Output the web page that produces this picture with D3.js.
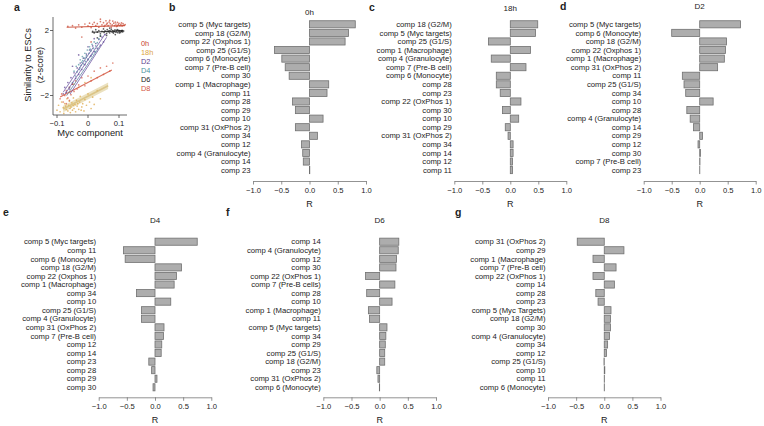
<!DOCTYPE html>
<html>
<head>
<meta charset="utf-8">
<script src="https://cdn.jsdelivr.net/npm/d3@7"></script>
<style>
  body { margin: 0; background: #fff; }
  text { font-family: "Liberation Sans", Arial, sans-serif; fill: #222; }
</style>
</head>
<body>
<script>
// scatter (panel a): [Myc component, z-score]
const pts0h = [[-0.065,2.25],[-0.05,2.3],[-0.04,2.15],[-0.03,2.35],[-0.02,2.2],[-0.01,2.4],[0.0,2.28],[0.005,2.45],[0.01,2.18],[0.015,2.38],[0.02,2.5],[0.025,2.3],[0.03,2.42],[0.035,2.2],[0.04,2.55],[0.045,2.35],[0.05,2.48],[0.052,2.25],[0.058,2.6],[0.06,2.38],[0.065,2.3],[0.068,2.52],[0.072,2.42],[0.075,2.2],[0.078,2.35],[0.08,2.58],[0.083,2.45],[0.086,2.3],[0.09,2.4],[0.092,2.25],[0.095,2.5],[0.098,2.36],[0.1,2.44],[0.103,2.3],[0.106,2.38],[0.11,2.28],[0.113,2.42],[0.116,2.33],[0.12,2.36],[0.04,2.7],[-0.02,1.6],[0.01,1.3],[0.062,2.45],[0.088,2.52],[0.108,2.47],[0.055,2.32],[0.07,2.62],[0.095,2.28]];
const pts18h = [[-0.1,-2.9],[-0.095,-2.6],[-0.09,-3.0],[-0.085,-2.4],[-0.08,-2.75],[-0.078,-3.1],[-0.075,-2.5],[-0.07,-2.85],[-0.068,-2.2],[-0.065,-2.95],[-0.062,-2.6],[-0.06,-2.35],[-0.057,-3.05],[-0.055,-2.7],[-0.052,-2.45],[-0.05,-2.9],[-0.047,-2.15],[-0.045,-2.8],[-0.042,-2.55],[-0.04,-3.0],[-0.037,-2.3],[-0.035,-2.65],[-0.03,-2.85],[-0.027,-2.4],[-0.025,-2.05],[-0.02,-2.7],[-0.017,-2.5],[-0.013,-2.95],[-0.01,-2.25],[-0.005,-2.6],[0.0,-1.9],[0.005,-2.4],[0.01,-2.8],[0.015,-2.1],[0.02,-2.55],[-0.03,-1.5],[-0.01,-1.2],[0.03,-1.7],[0.04,-2.2],[-0.06,-1.8],[0.01,-0.9],[-0.045,-1.3],[-0.072,-2.65],[-0.058,-2.8],[-0.048,-2.6],[-0.033,-2.5],[-0.022,-2.9]];
const ptsD2 = [[-0.08,-1.9],[-0.075,-1.5],[-0.07,-1.8],[-0.065,-1.2],[-0.06,-1.6],[-0.055,-0.9],[-0.05,-1.3],[-0.045,-0.6],[-0.04,-0.95],[-0.035,-0.3],[-0.03,-0.7],[-0.025,0.0],[-0.02,-0.4],[-0.015,0.3],[-0.01,-0.1],[-0.005,0.55],[0.0,0.2],[0.005,0.8],[0.01,0.45],[0.015,1.05],[0.02,0.7],[0.025,1.2],[0.03,0.9],[0.035,1.45],[0.04,1.1],[0.045,1.6],[0.05,1.3],[0.055,1.75],[-0.05,-0.2],[0.0,1.0],[-0.03,0.5],[0.02,1.5]];
const ptsD4 = [[-0.045,-0.5],[-0.04,-0.8],[-0.038,-0.2],[-0.035,-0.55],[-0.03,-0.1],[-0.028,-0.4],[-0.025,0.2],[-0.022,-0.15],[-0.02,0.05],[-0.018,0.4],[-0.015,-0.05],[-0.012,0.3],[-0.01,0.6],[-0.008,0.1],[-0.005,0.45],[-0.002,0.8],[0.0,0.25],[0.003,0.6],[0.005,1.0],[0.008,0.4],[0.01,0.75],[0.013,1.15],[0.015,0.55],[0.018,0.9],[0.02,1.3],[0.023,0.7],[0.025,1.05],[0.03,1.25],[0.035,1.5],[-0.05,-1.2],[-0.06,-1.5],[0.04,1.7],[-0.017,0.15],[-0.006,0.35],[0.007,0.85],[-0.026,-0.3]];
const ptsD6 = [[0.015,1.95],[0.02,1.85],[0.025,2.05],[0.03,1.9],[0.035,2.0],[0.04,1.8],[0.045,1.95],[0.05,2.1],[0.052,1.88],[0.055,1.98],[0.06,1.82],[0.062,2.05],[0.065,1.92],[0.068,2.0],[0.07,1.86],[0.073,1.97],[0.075,2.08],[0.078,1.9],[0.08,2.0],[0.082,1.84],[0.085,1.95],[0.087,2.04],[0.09,1.9],[0.092,1.98],[0.095,1.87],[0.097,2.02],[0.1,1.93],[0.102,1.99],[0.105,1.88],[0.107,1.96],[0.11,2.01],[0.112,1.92],[0.115,1.97],[0.06,1.7],[0.04,1.65],[0.088,1.75],[0.07,2.15],[0.03,1.55],[0.083,1.92],[0.094,2.06],[0.101,1.85],[0.109,1.94]];
const ptsD8 = [[-0.09,-2.2],[-0.085,-1.9],[-0.08,-2.4],[-0.075,-2.0],[-0.07,-1.7],[-0.065,-2.15],[-0.06,-1.5],[-0.055,-1.95],[-0.05,-1.3],[-0.045,-1.75],[-0.04,-1.1],[-0.035,-1.6],[-0.03,-1.35],[-0.02,-0.9],[-0.01,-1.4],[0.0,-0.8],[0.01,-1.1],[0.02,-0.5],[0.03,-0.9],[0.04,-0.3],[0.05,-0.7],[0.06,-0.2],[0.07,-0.5],[0.08,0.0],[-0.06,-2.3],[-0.07,-2.5]];

// fitted lines, [[x1,y1],[x2,y2]]
const line0h = [[-0.069,2.2],[0.119,2.3]];
const line18h = [[-0.08,-2.83],[0.065,-1.4]];
const linesD2 = [[[-0.074,-1.91],[0.055,1.78]],[[-0.08,-1.8],[0.017,0.97]],[[-0.058,-1.91],[0.06,1.58]]];
const linesD4 = [[[-0.069,-2.01],[0.039,1.06]]];
const lineD6 = [[0.012,1.89],[0.114,1.99]];
const lineD8 = [[-0.09,-2.09],[0.077,-0.43]];

const groups = ["0h","18h","D2","D4","D6","D8"];
const groupColors = ["#c8452f","#dca43e","#5a3f8e","#4b93a0","#1a1a1a","#d4563f"];

// correlation bar panels
const labels0h = ["comp 5 (Myc targets)","comp 18 (G2/M)","comp 22 (Oxphos 1)","comp 25 (G1/S)","comp 6 (Monocyte)","comp 7 (Pre-B cell)","comp 30","comp 1 (Macrophage)","comp 11","comp 28","comp 29","comp 10","comp 31 (OxPhos 2)","comp 34","comp 12","comp 4 (Granulocyte)","comp 14","comp 23"];
const r0h = [0.81,0.69,0.63,-0.62,-0.49,-0.43,-0.36,0.34,0.31,-0.30,-0.25,0.24,-0.25,0.14,-0.14,-0.12,-0.11,0.005];

const labels18h = ["comp 18 (G2/M)","comp 5 (Myc targets)","comp 25 (G1/S)","comp 1 (Macrophage)","comp 4 (Granulocyte)","comp 7 (Pre-B cell)","comp 6 (Monocyte)","comp 28","comp 23","comp 22 (OxPhos 1)","comp 30","comp 10","comp 29","comp 31 (OxPhos 2)","comp 34","comp 14","comp 12","comp 11"];
const r18h = [0.49,0.45,-0.39,0.36,-0.34,0.28,-0.25,-0.25,-0.18,0.19,-0.14,0.15,-0.09,-0.04,0.05,0.05,0.04,0.04];

const labelsD2 = ["comp 5 (Myc targets)","comp 6 (Monocyte)","comp 18 (G2/M)","comp 22 (Oxphos 1)","comp 1 (Macrophage)","comp 31 (OxPhos 2)","comp 11","comp 25 (G1/S)","comp 34","comp 10","comp 28","comp 4 (Granulocyte)","comp 14","comp 29","comp 12","comp 30","comp 7 (Pre-B cell)","comp 23"];
const rD2 = [0.73,-0.50,0.48,0.46,0.44,0.32,-0.31,-0.28,-0.25,0.24,-0.23,-0.17,-0.11,0.05,-0.03,0.015,0.005,0.002];

const labelsD4 = ["comp 5 (Myc targets)","comp 11","comp 6 (Monocyte)","comp 18 (G2/M)","comp 22 (Oxphos 1)","comp 1 (Macrophage)","comp 34","comp 10","comp 25 (G1/S)","comp 4 (Granulocyte)","comp 31 (OxPhos 2)","comp 7 (Pre-B cell)","comp 12","comp 14","comp 23","comp 28","comp 29","comp 30"];
const rD4 = [0.75,-0.56,-0.53,0.47,0.38,0.34,-0.33,0.28,-0.24,-0.24,0.16,0.15,0.12,0.11,-0.11,-0.06,0.035,-0.035];

const labelsD6 = ["comp 14","comp 4 (Granulocyte)","comp 12","comp 30","comp 22 (OxPhos 1)","comp 7 (Pre-B cells)","comp 28","comp 10","comp 1 (Macrophage)","comp 11","comp 5 (Myc targets)","comp 34","comp 29","comp 25 (G1/S)","comp 18 (G2/M)","comp 23","comp 31 (OxPhos 2)","comp 6 (Monocyte)"];
const rD6 = [0.34,0.33,0.30,0.29,-0.25,0.27,-0.23,0.22,-0.20,-0.18,0.13,0.11,0.10,0.09,0.09,-0.05,-0.03,-0.005];

const labelsD8 = ["comp 31 (OxPhos 2)","comp 29","comp 1 (Macrophage)","comp 7 (Pre-B cell)","comp 22 (OxPhos 1)","comp 14","comp 28","comp 23","comp 5 (Myc Targets)","comp 18 (G2/M)","comp 30","comp 4 (Granulocyte)","comp 34","comp 12","comp 25 (G1/S)","comp 10","comp 11","comp 6 (Monocyte)"];
const rD8 = [-0.48,0.35,-0.20,0.21,-0.20,0.18,-0.15,-0.11,0.12,0.11,0.11,0.095,0.06,0.04,-0.005,0.01,0.003,0.002];

const rTicks = [-1,-0.5,0,0.5,1];

var svg = d3.select('body').append('svg')
  .attr('width',764)
  .attr('height',426);

// ---- panel a ----
function drawScatter(){
  const x = d3.scaleLinear().domain([-0.1,0.1]).range([57,119]);
  const y = d3.scaleLinear().domain([-2,2]).range([95.5,30.5]);
  const g = svg.append('g');

  svg.append('text').text('a')
    .attr('x',14).attr('y',11)
    .style('font-weight','bold').style('font-size','10.5px');

  svg.append('clipPath').attr('id','clipA')
    .append('rect').attr('x',53).attr('y',17).attr('width',76).attr('height',98);
  const plot = g.append('g').attr('clip-path','url(#clipA)');

  const sets = [pts0h,pts18h,ptsD2,ptsD4,ptsD6,ptsD8];
  // 18h confidence band under everything
  const band = [[line18h[0][0],line18h[0][1]+0.2],[line18h[1][0],line18h[1][1]+0.2],
                [line18h[1][0],line18h[1][1]-0.2],[line18h[0][0],line18h[0][1]-0.2]];
  plot.append('path')
    .attr('d','M'+band.map(p=>x(p[0])+','+y(p[1])).join('L')+'Z')
    .style('fill','#ebe1bf');

  sets.forEach((pts,i)=>{
    plot.append('g').selectAll('circle')
      .data(pts).enter().append('circle')
      .attr('cx',d=>x(d[0])).attr('cy',d=>y(d[1]))
      .attr('r',0.85)
      .style('fill',groupColors[i])
      .style('opacity',0.7);
  });

  const lineGen = d3.line().x(d=>x(d[0])).y(d=>y(d[1]));
  const fits = [
    [line18h,'#d8c07e',1.5],
    [line0h,groupColors[0],1.1],
    [lineD6,groupColors[4],1.1],
    [lineD8,groupColors[5],1.1]
  ];
  linesD2.forEach(l=>fits.push([l,'#6a52a0',0.9]));
  linesD4.forEach(l=>fits.push([l,'#5b7fa0',0.9]));
  fits.forEach(f=>{
    plot.append('path').attr('d',lineGen(f[0]))
      .style('fill','none').style('stroke',f[1]).style('stroke-width',f[2])
      .style('opacity',0.85);
  });

  // L-shaped frame
  g.append('path').attr('d','M53,17V115H127')
    .style('fill','none').style('stroke','#444').style('stroke-width',0.8);
  [-2,2].forEach(v=>{
    g.append('line').attr('x1',50).attr('x2',53).attr('y1',y(v)).attr('y2',y(v))
      .style('stroke','#444').style('stroke-width',0.8);
    g.append('text').text(d3.format('d')(v))
      .attr('x',49).attr('y',y(v)).attr('dy','0.35em')
      .style('text-anchor','end').style('font-size','7.6px');
  });
  [-0.1,0,0.1].forEach(v=>{
    g.append('line').attr('x1',x(v)).attr('x2',x(v)).attr('y1',115).attr('y2',118)
      .style('stroke','#444').style('stroke-width',0.8);
    g.append('text').text(v===0?'0':d3.format('.1f')(v))
      .attr('x',x(v)).attr('y',125.5)
      .style('text-anchor','middle').style('font-size','7.6px');
  });
  g.append('text').text('Myc component')
    .attr('x',90).attr('y',136)
    .style('text-anchor','middle').style('font-size','9.3px');
  g.append('text').text('Similarity to ESCs')
    .attr('transform','translate(31,65) rotate(-90)')
    .style('text-anchor','middle').style('font-size','9.2px');
  g.append('text').text('(z-score)')
    .attr('transform','translate(42.5,65) rotate(-90)')
    .style('text-anchor','middle').style('font-size','9.2px');

  // legend
  groups.forEach((name,i)=>{
    g.append('text').text(name)
      .attr('x',141).attr('y',43.5+i*9).attr('dy','0.35em')
      .style('font-size','7.4px').style('fill',groupColors[i]);
  });
}

// ---- panels b-g ----
function drawBars(p){
  const x = d3.scaleLinear().domain([-1,1]).range(p.xr);
  const y = d3.scalePoint().domain(p.labels).range(p.yr);
  const barH = y.step()*0.83;
  const g = svg.append('g');

  g.append('text').text(p.letter)
    .attr('x',p.letterPos[0]).attr('y',p.letterPos[1]).attr('dy','0.35em')
    .style('font-weight','bold').style('font-size','10.5px');
  g.append('text').text(p.title)
    .attr('x',x(0)).attr('y',p.titleY).attr('dy','0.35em')
    .style('text-anchor','middle').style('font-size','8px');

  g.selectAll('rect').data(p.values).enter().append('rect')
    .attr('x',d=>x(Math.min(0,d)))
    .attr('y',(d,i)=>y(p.labels[i])-barH/2)
    .attr('width',d=>Math.abs(x(d)-x(0)))
    .attr('height',barH)
    .style('fill','#adadad')
    .style('stroke','#707070')
    .style('stroke-width',0.8);

  g.selectAll('text.lab').data(p.labels).enter().append('text')
    .attr('class','lab')
    .text(d=>d)
    .attr('x',x(-1)-2.5)
    .attr('y',d=>y(d)).attr('dy','0.35em')
    .style('text-anchor','end').style('font-size','7.7px');

  const axis = d3.axisBottom(x).tickValues(rTicks)
    .tickFormat(d3.format('.1f')).tickSize(3.5).tickPadding(3).tickSizeOuter(0);
  const ax = g.append('g').attr('transform','translate(0,'+p.axisY+')').call(axis);
  ax.select('.domain').style('stroke','#777').style('stroke-width',0.8);
  ax.selectAll('.tick line').style('stroke','#777').style('stroke-width',0.8);
  ax.selectAll('.tick text').style('font-size','7.6px').style('fill','#222')
    .style('font-family','"Liberation Sans", Arial, sans-serif');

  g.append('text').text('R')
    .attr('x',x(0)).attr('y',p.axisY+23).attr('dy','0.35em')
    .style('text-anchor','middle').style('font-size','9px');
}

const panels = [
  {letter:'b',title:'0h',labels:labels0h,values:r0h,xr:[253,366],yr:[24.3,170.1],axisY:181,titleY:12,letterPos:[169,7]},
  {letter:'c',title:'18h',labels:labels18h,values:r18h,xr:[454.3,566.3],yr:[24.3,170.1],axisY:181,titleY:8,letterPos:[369,7]},
  {letter:'d',title:'D2',labels:labelsD2,values:rD2,xr:[643.7,755.7],yr:[24.3,170.1],axisY:181,titleY:6,letterPos:[560,6]},
  {letter:'e',title:'D4',labels:labelsD4,values:rD4,xr:[98.7,211.3],yr:[241.7,387.3],axisY:397.3,titleY:220,letterPos:[3,212]},
  {letter:'f',title:'D6',labels:labelsD6,values:rD6,xr:[323.3,436],yr:[241.7,387.3],axisY:397.3,titleY:220,letterPos:[226,212]},
  {letter:'g',title:'D8',labels:labelsD8,values:rD8,xr:[548,660.5],yr:[241.7,387.3],axisY:397.3,titleY:220,letterPos:[455,212]}
];

drawScatter();
panels.forEach(drawBars);
</script>
</body>
</html>
